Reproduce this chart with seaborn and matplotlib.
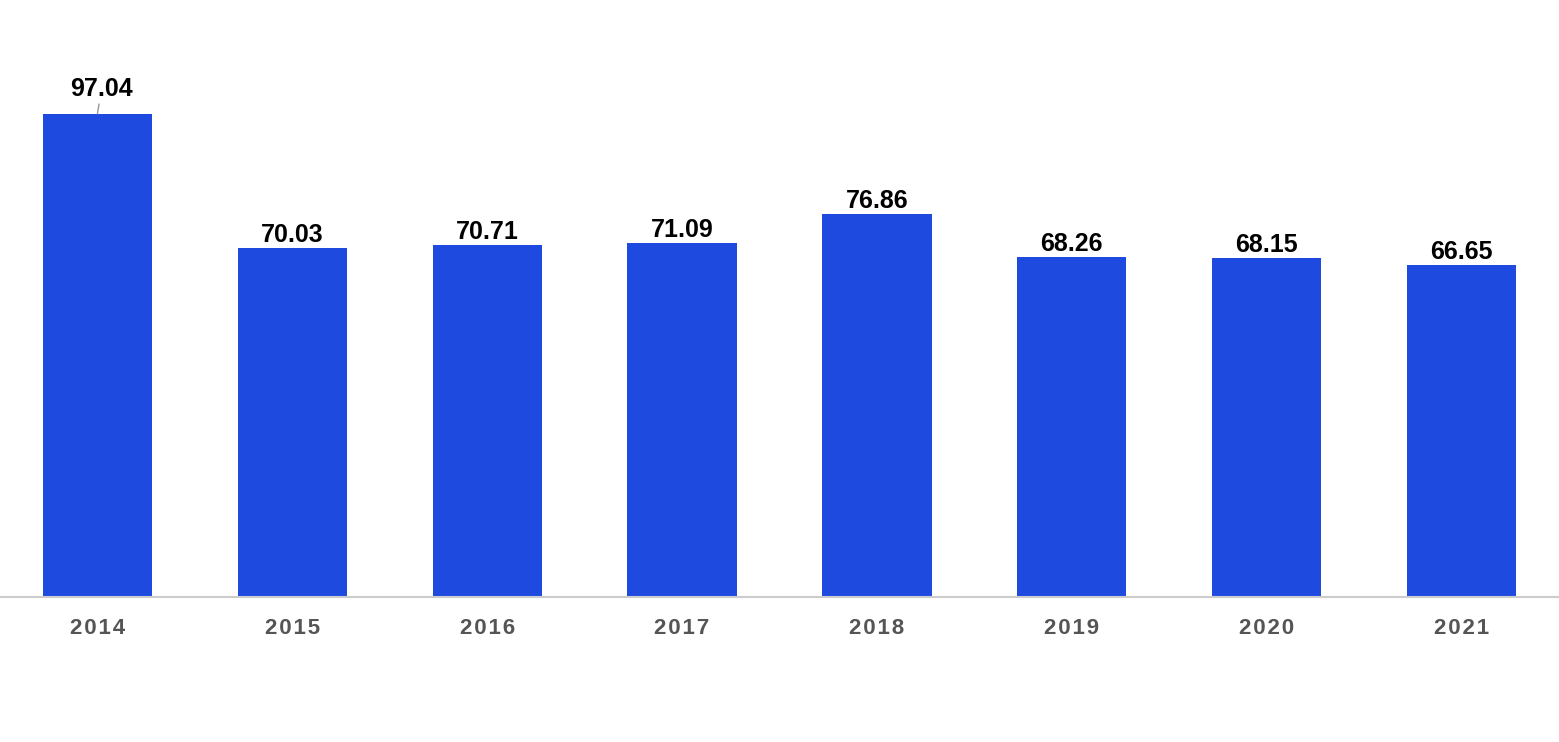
import pandas as pd
import seaborn as sns
import matplotlib.pyplot as plt

anos = ['2014', '2015', '2016', '2017', '2018', '2019', '2020', '2021']
valores = [97.04, 70.03, 70.71, 71.09, 76.86, 68.26, 68.15, 66.65]

df = pd.DataFrame({'ano': anos, 'valor': valores})

sns.set_style('white')
plt.rcParams['font.family'] = ['Liberation Sans', 'DejaVu Sans']

fig = plt.figure(figsize=(15.59, 7.42), dpi=100)
ax = fig.add_axes([0, 145 / 742, 1, 577 / 742])

sns.barplot(data=df, x='ano', y='valor', color='#1F4AE0', saturation=1,
            width=0.56, linewidth=0, ax=ax)

ax.set_xlim(-0.5, 7.5)
ax.set_ylim(0, 577 / 4.98)

# rótulos de valor
for i, v in enumerate(valores):
    if i == 0:
        ax.annotate(f'{v:.2f}', xy=(i, v), xytext=(4, 13), textcoords='offset pixels',
                    ha='center', va='bottom', fontsize=18, fontweight='bold',
                    color='black',
                    arrowprops=dict(arrowstyle='-', color='#999999', lw=1,
                                    shrinkA=0, shrinkB=0))
    else:
        ax.annotate(f'{v:.2f}', xy=(i, v), xytext=(0, 1), textcoords='offset pixels',
                    ha='center', va='bottom', fontsize=18, fontweight='bold',
                    color='black')

for s in ['top', 'left', 'right']:
    ax.spines[s].set_visible(False)
ax.spines['bottom'].set_color('#cccccc')
ax.spines['bottom'].set_linewidth(1.5)

ax.set_yticks([])
ax.set_xlabel('')
ax.set_ylabel('')
# espaçamento entre letras
ax.set_xticks(range(len(anos)))
ax.set_xticklabels(['\u200a'.join(a) for a in anos])
ax.tick_params(axis='x', length=0, pad=15, labelsize=16, labelcolor='#555555')
for t in ax.get_xticklabels():
    t.set_fontweight('bold')

fig.savefig('out.png', dpi=100)
